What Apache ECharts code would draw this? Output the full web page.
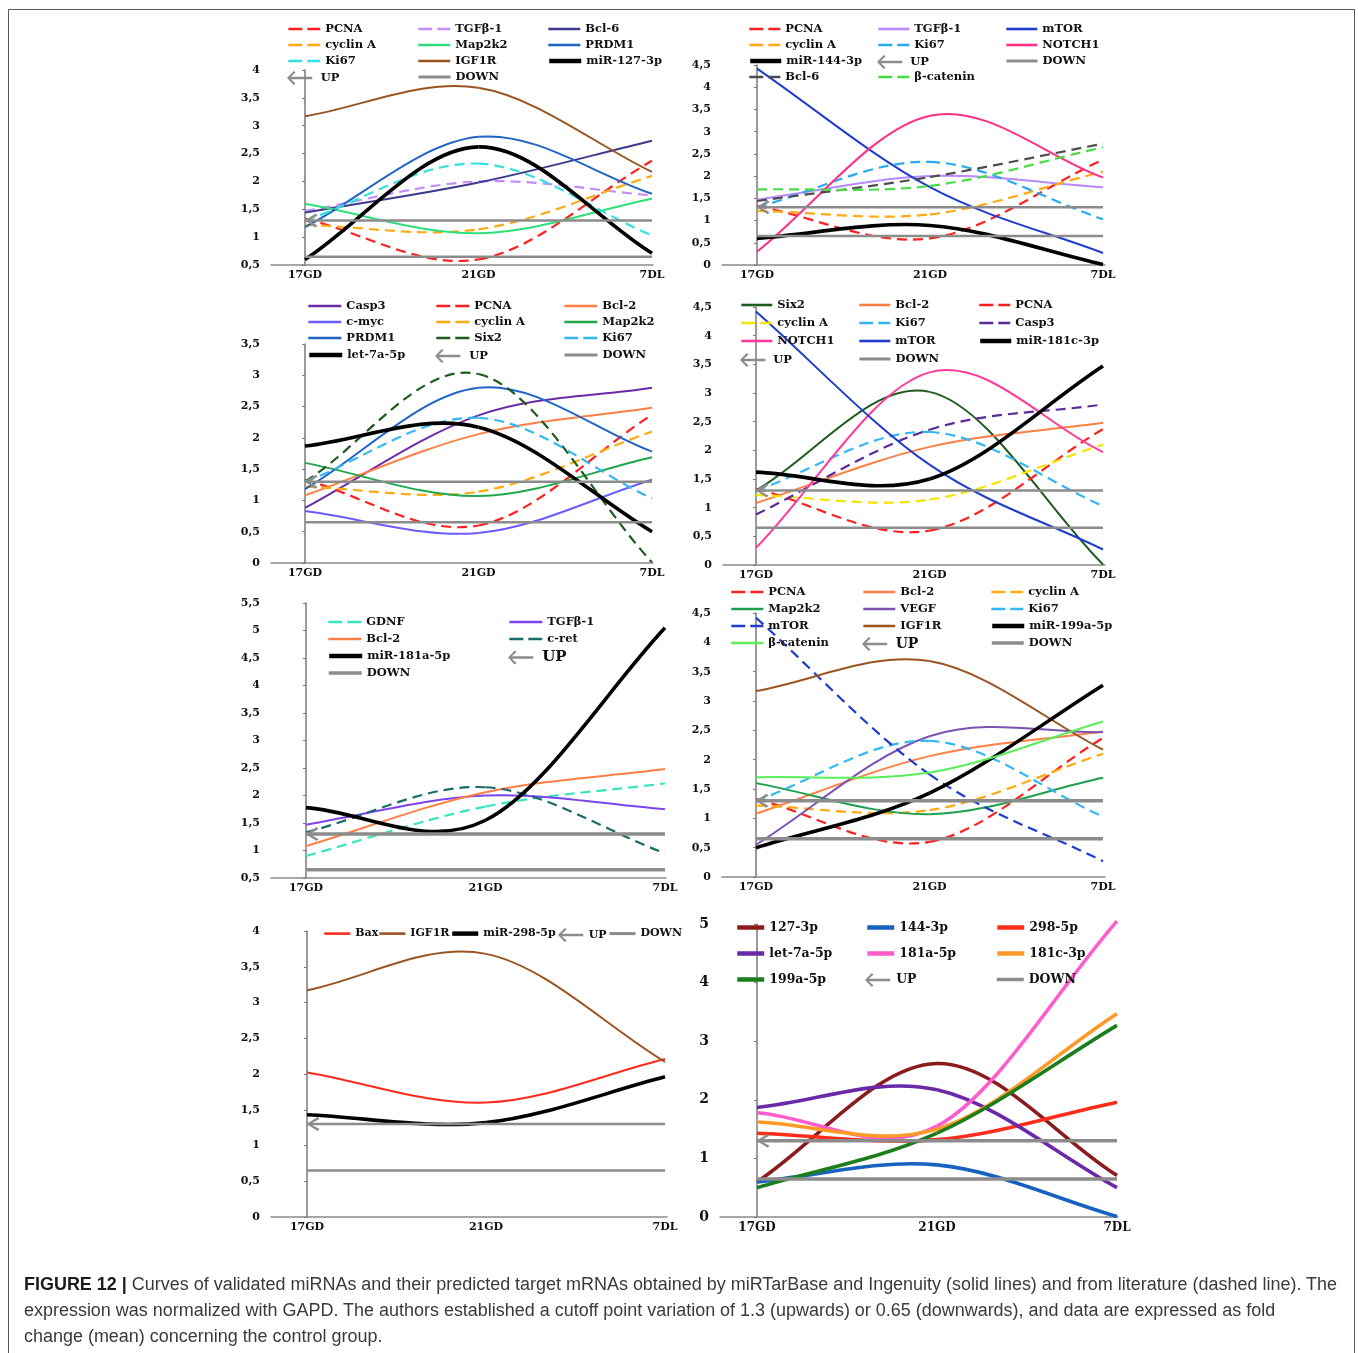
<!DOCTYPE html>
<html>
<head>
<meta charset="utf-8">
<title>Figure 12 - miRNA and target mRNA curves</title>
<script src="https://cdn.jsdelivr.net/npm/echarts@6/dist/echarts.min.js"></script>
<style>
  html, body { margin: 0; padding: 0; background: #fff; }
  #page { position: relative; width: 1358px; height: 1353px; overflow: hidden; background: #fff; }
  #frame { position: absolute; left: 8px; top: 9px; width: 1347px; height: 1400px; box-sizing: border-box;
           border: 1.5px solid #5a5a5a; }
  .panel { position: absolute; left: 0; top: 0; width: 1358px; height: 1353px; }
  #caption { position: absolute; left: 24px; top: 1271px; white-space: nowrap; transform-origin: 0 0;
             font-family: "Liberation Sans Narrow", "Liberation Sans", "DejaVu Sans Condensed", sans-serif;
             font-size: 18px; line-height: 26px; color: #3a3a3a; }
  #caption b { color: #1a1a1a; }
</style>
</head>
<body>
<div id="page">
  <div id="frame"></div>
  <div class="panel" id="p0"></div>
  <div class="panel" id="p1"></div>
  <div class="panel" id="p2"></div>
  <div class="panel" id="p3"></div>
  <div class="panel" id="p4"></div>
  <div class="panel" id="p5"></div>
  <div class="panel" id="p6"></div>
  <div class="panel" id="p7"></div>
  <div id="caption"><span id="capLine1"><b>FIGURE 12 |</b> Curves of validated miRNAs and their predicted target mRNAs obtained by miRTarBase and Ingenuity (solid lines) and from literature (dashed line). The</span><br>expression was normalized with GAPD. The authors established a cutoff point variation of 1.3 (upwards) or 0.65 (downwards), and data are expressed as fold<br>change (mean) concerning the control group.</div>
</div>
<script>
// Time points
const CATEGORIES = ['17GD', '21GD', '7DL'];

// Cutoff lines (fold change)
const UP_CUTOFF = 1.3;
const DOWN_CUTOFF = 0.65;

// Target mRNAs, fold change (mean) at 17GD, 21GD, 7DL
const PCNA = [1.33, 0.60, 2.37];
const CYCLIN_A = [1.22, 1.14, 2.10];
const KI67 = [1.30, 2.32, 1.03];
const TGFB1 = [1.47, 2.00, 1.75];
const MAP2K2 = [1.60, 1.07, 1.69];
const IGF1R = [3.17, 3.68, 2.17];
const BCL6 = [1.44, 1.98, 2.73];
const PRDM1 = [1.18, 2.80, 1.78];
const MTOR = [4.42, 1.75, 0.27];
const NOTCH1 = [0.30, 3.36, 1.97];
const BETA_CATENIN = [1.70, 1.78, 2.65];
const CASP3 = [0.88, 2.36, 2.80];
const BCL2 = [1.08, 2.06, 2.48];
const C_MYC = [0.83, 0.48, 1.33];
const SIX2 = [1.30, 3.02, 0.01];
const GDNF = [0.90, 1.80, 2.22];
const C_RET = [1.33, 2.15, 0.95];
const VEGF = [0.55, 2.40, 2.47];
const BAX = [2.02, 1.60, 2.21];

// Validated miRNAs, fold change (mean) at 17GD, 21GD, 7DL
const MIR_127_3P = [0.60, 2.62, 0.71];
const MIR_144_3P = [0.60, 0.89, 0.01];
const MIR_298_5P = [1.43, 1.32, 1.96];
const LET_7A_5P = [1.87, 2.17, 0.50];
const MIR_181A_5P = [1.78, 1.55, 5.05];
const MIR_181C_3P = [1.62, 1.50, 3.47];
const MIR_199A_5P = [0.50, 1.43, 3.27];

const SERIF = '"DejaVu Serif", "Liberation Serif", serif';
const GRAY = '#8c8c8c';
const PLOT_DASH = [10, 6];
const ICON_DASH = [14, 5];
// filled chevron used as the arrow head on the UP line
const ARROW_HEAD = 'path://M12,0 L14,2 L4,7 L14,12 L12,14 L0,7 Z';
// arrow with shaft used as the UP legend icon
const ARROW_ICON = 'path://M7,0 L8.8,1.6 L4,6 L26,6 L26,8.4 L4,8.4 L8.8,12.8 L7,14.4 L0,7.2 Z';

// helpers for curve specs
function solid(name, values, color, row, col, width) {
  return { name, values, color, width: width || 2, dashed: false, row, col };
}
function dashed(name, values, color, row, col, width) {
  return { name, values, color, width: width || 2.2, dashed: true, row, col };
}
function mirna(name, values, row, col, width, color) {
  return { name, values, color: color || '#000', width: width || 3.6, dashed: false, row, col };
}

const RED = '#ff1f1f', ORANGE = '#ffaa11', BROWN = '#9a5420', BLUE_MTOR = '#1f3ccf',
      BLUE_PRDM1 = '#1f63c6', SALMON = '#ff7f45', SKY = '#33b8f5';

const PANELS = [
  { // miR-127-3p and targets
    axis: { x0: 271, first: 305, last: 652, x1: 653, top: 70, bottom: 265, min: 0.5, max: 4, step: 0.5 },
    legend: { cols: [287, 417, 547], rows: [30, 46, 62, 78], iconW: 32, font: 11.5 },
    curves: [
      dashed('PCNA', PCNA, RED, 0, 0),
      dashed('TGFβ-1', TGFB1, '#c48cff', 0, 1),
      solid('Bcl-6', BCL6, '#3c3a8c', 0, 2),
      dashed('cyclin A', CYCLIN_A, ORANGE, 1, 0),
      solid('Map2k2', MAP2K2, '#2ee07a', 1, 1),
      solid('PRDM1', PRDM1, BLUE_PRDM1, 1, 2),
      dashed('Ki67', KI67, '#33e0e0', 2, 0),
      solid('IGF1R', IGF1R, BROWN, 2, 1),
      mirna('miR-127-3p', MIR_127_3P, 2, 2)
    ],
    up: [3, 0], down: [3, 1]
  },
  { // miR-144-3p and targets
    axis: { x0: 722, first: 757, last: 1103, x1: 1105, top: 65, bottom: 265, min: 0, max: 4.5, step: 0.5 },
    legend: { cols: [748, 877, 1005], rows: [30, 46, 62, 78], iconW: 31, font: 11.5 },
    curves: [
      dashed('PCNA', PCNA, RED, 0, 0),
      solid('TGFβ-1', TGFB1, '#b98aff', 0, 1),
      solid('mTOR', MTOR, BLUE_MTOR, 0, 2),
      dashed('cyclin A', CYCLIN_A, ORANGE, 1, 0),
      dashed('Ki67', KI67, '#29aaf0', 1, 1),
      solid('NOTCH1', NOTCH1, '#ff2f86', 1, 2),
      mirna('miR-144-3p', MIR_144_3P, 2, 0),
      dashed('Bcl-6', BCL6, '#4d4d4d', 3, 0),
      dashed('β-catenin', BETA_CATENIN, '#47dd47', 3, 1)
    ],
    up: [2, 1], down: [2, 2]
  },
  { // let-7a-5p and targets
    axis: { x0: 271, first: 305, last: 652, x1: 653, top: 344, bottom: 563, min: 0, max: 3.5, step: 0.5 },
    legend: { cols: [307, 435, 563], rows: [307, 323, 339, 356], iconW: 33, font: 11.5 },
    curves: [
      solid('Casp3', CASP3, '#6b2ca8', 0, 0),
      dashed('PCNA', PCNA, RED, 0, 1),
      solid('Bcl-2', BCL2, SALMON, 0, 2),
      solid('c-myc', C_MYC, '#6a5cff', 1, 0),
      dashed('cyclin A', CYCLIN_A, ORANGE, 1, 1),
      solid('Map2k2', MAP2K2, '#1fa84a', 1, 2),
      solid('PRDM1', PRDM1, BLUE_PRDM1, 2, 0),
      dashed('Six2', SIX2, '#1d5c1d', 2, 1),
      dashed('Ki67', KI67, SKY, 2, 2),
      mirna('let-7a-5p', LET_7A_5P, 3, 0)
    ],
    up: [3, 1], down: [3, 2]
  },
  { // miR-181c-3p and targets
    axis: { x0: 723, first: 756, last: 1103, x1: 1105, top: 307, bottom: 565, min: 0, max: 4.5, step: 0.5 },
    legend: { cols: [740, 858, 978], rows: [306, 324, 342, 360], iconW: 31, font: 11.5 },
    curves: [
      solid('Six2', SIX2, '#1d5c1d', 0, 0),
      solid('Bcl-2', BCL2, SALMON, 0, 1),
      dashed('PCNA', PCNA, RED, 0, 2),
      dashed('cyclin A', CYCLIN_A, '#f2e600', 1, 0),
      dashed('Ki67', KI67, SKY, 1, 1),
      dashed('Casp3', CASP3, '#5c2a9a', 1, 2),
      solid('NOTCH1', NOTCH1, '#ff3a98', 2, 0),
      solid('mTOR', MTOR, BLUE_MTOR, 2, 1),
      mirna('miR-181c-3p', MIR_181C_3P, 2, 2)
    ],
    up: [3, 0], down: [3, 1]
  },
  { // miR-181a-5p and targets
    axis: { x0: 271, first: 306, last: 665, x1: 666, top: 603, bottom: 878, min: 0.5, max: 5.5, step: 0.5 },
    legend: { cols: [327, 508], rows: [623, 640, 657, 674], iconW: 33, font: 11.5, upFont: 15 },
    curves: [
      dashed('GDNF', GDNF, '#38e6bd', 0, 0),
      solid('TGFβ-1', TGFB1, '#7b45ea', 0, 1),
      solid('Bcl-2', BCL2, SALMON, 1, 0),
      dashed('c-ret', C_RET, '#1b6b6b', 1, 1),
      mirna('miR-181a-5p', MIR_181A_5P, 2, 0)
    ],
    up: [2, 1], down: [3, 0], downWidth: 3.5
  },
  { // miR-199a-5p and targets
    axis: { x0: 722, first: 756, last: 1103, x1: 1105, top: 613, bottom: 877, min: 0, max: 4.5, step: 0.5 },
    legend: { cols: [730, 862, 990], rows: [593, 610, 627, 644], iconW: 32, font: 11.5, upFont: 14 },
    curves: [
      dashed('PCNA', PCNA, RED, 0, 0),
      solid('Bcl-2', BCL2, SALMON, 0, 1),
      dashed('cyclin A', CYCLIN_A, ORANGE, 0, 2),
      solid('Map2k2', MAP2K2, '#1f9e4d', 1, 0),
      solid('VEGF', VEGF, '#7b52b3', 1, 1),
      dashed('Ki67', KI67, SKY, 1, 2),
      dashed('mTOR', MTOR, BLUE_MTOR, 2, 0),
      solid('IGF1R', IGF1R, BROWN, 2, 1),
      mirna('miR-199a-5p', MIR_199A_5P, 2, 2),
      solid('β-catenin', BETA_CATENIN, '#5aee5a', 3, 0)
    ],
    up: [3, 1], down: [3, 2], downWidth: 3.5
  },
  { // miR-298-5p and targets
    axis: { x0: 271, first: 307, last: 665, x1: 667, top: 931, bottom: 1217, min: 0, max: 4, step: 0.5 },
    legend: { cols: [323, 378, 450, 558, 608], rows: [935], iconW: 26, font: 11 },
    curves: [
      solid('Bax', BAX, '#ff2a1a', 0, 0),
      solid('IGF1R', IGF1R, BROWN, 0, 1),
      mirna('miR-298-5p', MIR_298_5P, 0, 2)
    ],
    up: [0, 3], down: [0, 4]
  },
  { // all validated miRNAs
    axis: { x0: 720, first: 757, last: 1117, x1: 1118, top: 924, bottom: 1217, min: 0, max: 5, step: 1 },
    legend: { cols: [735, 865, 995], rows: [928, 954, 980], iconW: 27, font: 12.5 },
    yFont: 14, xFont: 12,
    curves: [
      mirna('127-3p', MIR_127_3P, 0, 0, 3.6, '#8b1c1c'),
      mirna('144-3p', MIR_144_3P, 0, 1, 3.6, '#1762bf'),
      mirna('298-5p', MIR_298_5P, 0, 2, 3.6, '#ff2d1a'),
      mirna('let-7a-5p', LET_7A_5P, 1, 0, 3.6, '#6a2aa8'),
      mirna('181a-5p', MIR_181A_5P, 1, 1, 3.6, '#ff5ccc'),
      mirna('181c-3p', MIR_181C_3P, 1, 2, 3.6, '#ff9a26'),
      mirna('199a-5p', MIR_199A_5P, 2, 0, 3.6, '#1c7d1c')
    ],
    up: [2, 1], down: [2, 2], downWidth: 3.5
  }
];

// Smooth curve through the points, drawn one bezier segment per data item
// (Catmull-Rom style control points, computed in pixel space from the axes).
function curveRenderer(spec) {
  return function (params, api) {
    const i = params.dataIndexInside;
    const n = params.dataInsideLength;
    if (i >= n - 1) return null;
    const pt = k => api.coord([api.value(0, k), api.value(1, k)]);
    const p0 = pt(i), p1 = pt(i + 1);
    let c1, c2;
    if (i > 0) {
      const pm = pt(i - 1);
      c1 = [p0[0] + (p1[0] - pm[0]) / 6, p0[1] + (p1[1] - pm[1]) / 6];
    } else {
      c1 = [p0[0] + (p1[0] - p0[0]) / 3, p0[1] + (p1[1] - p0[1]) / 3];
    }
    if (i + 2 < n) {
      const pn = pt(i + 2);
      c2 = [p1[0] - (pn[0] - p0[0]) / 6, p1[1] - (pn[1] - p0[1]) / 6];
    } else {
      c2 = [p1[0] - (p1[0] - p0[0]) / 3, p1[1] - (p1[1] - p0[1]) / 3];
    }
    return {
      type: 'bezierCurve',
      silent: true,
      shape: { x1: p0[0], y1: p0[1], x2: p1[0], y2: p1[1], cpx1: c1[0], cpy1: c1[1], cpx2: c2[0], cpy2: c2[1] },
      style: { fill: 'none', stroke: spec.color, lineWidth: spec.width, lineDash: spec.dashed ? PLOT_DASH : null, lineCap: 'butt' }
    };
  };
}

function fmtTick(v) {
  return String(Math.round(v * 100) / 100).replace('.', ',');
}

function buildOption(p) {
  const a = p.axis;
  const stepPx = (a.last - a.first) / 2;
  const xMin = (a.x0 - a.first) / stepPx;
  const xMax = (a.x1 - a.first) / stepPx;
  const L = p.legend;
  const labelBase = { fontFamily: SERIF, fontWeight: 'bold', color: '#111' };

  const series = [];
  const legends = [];

  // line series that carry each curve's legend icon
  p.curves.forEach(c => {
    series.push({
      type: 'line', name: c.name, data: [], symbol: 'none', silent: true, color: c.color,
      lineStyle: { color: c.color, width: c.width, type: c.dashed ? PLOT_DASH : 'solid' }
    });
  });
  // the curves themselves
  p.curves.forEach(c => {
    series.push({
      type: 'custom', name: c.name, coordinateSystem: 'cartesian2d', clip: false, silent: true,
      color: c.color, encode: { x: 0, y: 1 },
      data: c.values.map((v, i) => [i, v]),
      renderItem: curveRenderer(c)
    });
  });
  // cutoff lines
  const cutW = p.downWidth || 2.5;
  series.push({
    type: 'line', name: 'UP', silent: true, symbol: 'none', showSymbol: true, z: 4,
    color: GRAY, itemStyle: { color: GRAY }, lineStyle: { color: GRAY, width: cutW },
    data: CATEGORIES.map((_, i) => i === 0
      ? { value: [i, UP_CUTOFF], symbol: ARROW_HEAD, symbolSize: [13, 14], symbolOffset: [6, 0] }
      : [i, UP_CUTOFF])
  });
  series.push({
    type: 'line', name: 'DOWN', silent: true, symbol: 'none', z: 4,
    color: GRAY, lineStyle: { color: GRAY, width: cutW },
    data: CATEGORIES.map((_, i) => [i, DOWN_CUTOFF])
  });

  function addLegend(datum, row, col, lineStyle, fontSize) {
    legends.push({
      show: true, data: [datum], left: L.cols[col], top: L.rows[row] - 7, padding: 0,
      orient: 'horizontal', itemWidth: L.iconW, itemHeight: 14, itemGap: 0, selectedMode: false,
      textStyle: Object.assign({}, labelBase, { fontSize: fontSize || L.font, color: '#111' }),
      itemStyle: { color: 'transparent', borderColor: 'transparent', borderWidth: 0 },
      lineStyle: lineStyle || { color: GRAY, width: 2 }
    });
  }
  p.curves.forEach(c => addLegend(c.name, c.row, c.col, {
    color: c.color,
    width: c.width >= 3 ? 4.5 : 2.6,
    type: c.dashed ? ICON_DASH : 'solid',
    cap: 'butt'
  }));
  addLegend({ name: 'UP', icon: ARROW_ICON, itemStyle: { color: GRAY, borderWidth: 0 } }, p.up[0], p.up[1], null, L.upFont);
  addLegend('DOWN', p.down[0], p.down[1], { color: GRAY, width: Math.max(cutW, 3), type: 'solid', cap: 'butt' });

  return {
    animation: false,
    backgroundColor: 'transparent',
    grid: { left: a.x0, top: a.top, width: a.x1 - a.x0, height: a.bottom - a.top, containLabel: false, outerBoundsMode: 'none' },
    xAxis: {
      type: 'value', min: xMin, max: xMax,
      axisLine: { show: true, onZero: false, lineStyle: { color: '#8a8a8a', width: 1.5 } },
      axisTick: { show: false },
      splitLine: { show: false },
      axisLabel: Object.assign({}, labelBase, {
        customValues: [0, 1, 2], margin: 5, fontSize: p.xFont || 11,
        formatter: v => CATEGORIES[Math.round(v)] || ''
      })
    },
    yAxis: {
      type: 'value', min: a.min, max: a.max, interval: a.step,
      axisLine: { show: true, lineStyle: { color: '#7a7a7a', width: 1.5 } },
      axisTick: { show: true, length: 3, lineStyle: { color: '#7a7a7a' } },
      splitLine: { show: false },
      axisLabel: Object.assign({}, labelBase, { margin: 11, fontSize: p.yFont || 11, formatter: fmtTick })
    },
    legend: legends,
    series: series
  };
}

PANELS.forEach((p, idx) => {
  const chart = echarts.init(document.getElementById('p' + idx), null, { renderer: 'canvas' });
  chart.setOption(buildOption(p));
});

// fit the caption's first line to the figure width
(function () {
  const line1 = document.getElementById('capLine1');
  const w = line1.getBoundingClientRect().width;
  if (w > 0) {
    document.getElementById('caption').style.transform = 'scaleX(' + (1313 / w) + ')';
  }
})();
</script>
</body>
</html>
